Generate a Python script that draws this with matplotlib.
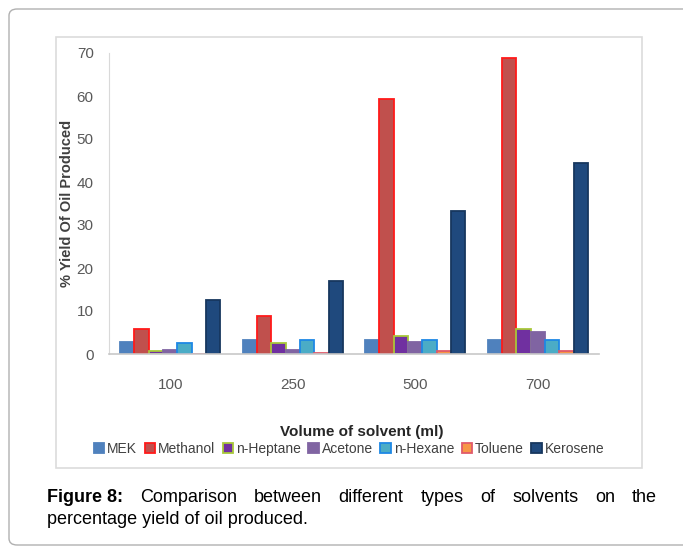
import numpy as np
import matplotlib
matplotlib.use("Agg")
import matplotlib.pyplot as plt
from matplotlib.patches import FancyBboxPatch, Rectangle

# data
volumes = ['100', '250', '500', '700']
solvents = ['MEK', 'Methanol', 'n-Heptane', 'Acetone', 'n-Hexane', 'Toluene', 'Kerosene']
mek = [2.7, 3.3, 3.3, 3.3]
methanol = [5.8, 8.9, 59.3, 68.8]
heptane = [0.6, 2.6, 4.3, 5.7]
acetone = [0.9, 1.0, 2.7, 5.2]
hexane = [2.6, 3.3, 3.3, 3.3]
toluene = [0.0, 0.3, 0.8, 0.8]
kerosene = [12.6, 16.9, 33.3, 44.5]

fills = ['#4F81BD', '#C0504D', '#7030A0', '#8064A2', '#4BACC6', '#F79646', '#1F497D']
edges = ['#4F81BD', '#FF1A1A', '#A8C83A', '#8064A2', '#1E88E5', '#E05A6A', '#17375E']

plt.rcParams['font.family'] = ['Liberation Sans', 'DejaVu Sans']

W, H = 683, 550
fig = plt.figure(figsize=(W / 100, H / 100), dpi=100)

def fx(px):
    return px / W

def fy(py):
    return 1 - py / H

# outer rounded box and inner chart frame
fig.patches.append(FancyBboxPatch((fx(9), fy(545)), fx(720) - fx(9), fy(9) - fy(545),
                                  boxstyle='round,pad=0,rounding_size=0.012',
                                  transform=fig.transFigure, fill=False,
                                  edgecolor='#b0b0b0', linewidth=1.0))
fig.patches.append(Rectangle((fx(56), fy(468)), fx(642) - fx(56), fy(37) - fy(468),
                             transform=fig.transFigure, fill=False,
                             edgecolor='#dcdcdc', linewidth=1.2))

ax = fig.add_axes([fx(109), fy(354), fx(599) - fx(109), fy(53) - fy(354)])
series = [mek, methanol, heptane, acetone, hexane, toluene, kerosene]
x = np.arange(len(volumes)) + 0.5
w = 0.117
for i, vals in enumerate(series):
    ax.bar(x + (i - 3) * w, vals, w, color=fills[i], edgecolor=edges[i],
           linewidth=1.3, label=solvents[i])

ax.set_xlim(0, 4)
ax.set_ylim(0, 70)
ax.set_yticks(range(0, 71, 10))
ax.set_xticks(x)
ax.set_xticklabels(volumes)
for sp in ['top', 'right']:
    ax.spines[sp].set_visible(False)
ax.spines['left'].set_color('#d9d9d9')
ax.spines['bottom'].set_color('#c8c8c8')
ax.spines['bottom'].set_linewidth(1.2)
ax.tick_params(length=0, labelsize=11, colors='#595959')
ax.tick_params(axis='x', pad=17)
ax.tick_params(axis='y', pad=11)

fig.text(fx(67), fy(203), '% Yield Of Oil Produced', rotation=90, ha='center',
         va='center', fontsize=10.5, fontweight='bold', color='#404040')
fig.text(fx(362), fy(432), 'Volume of solvent (ml)', ha='center', va='center',
         fontsize=11, fontweight='bold', color='#262626')

leg = fig.legend(loc='center', bbox_to_anchor=(fx(349), fy(449)), ncol=7, frameon=False,
                 handlelength=0.75, handleheight=0.75, handletextpad=0.2,
                 columnspacing=0.55, borderpad=0, fontsize=10)
for t in leg.get_texts():
    t.set_color('#404040')

# justified caption
line1 = ['Figure 8:', 'Comparison', 'between', 'different', 'types', 'of',
         'solvents', 'on', 'the']
x0, x1 = 47, 657
texts = []
for k, word in enumerate(line1):
    texts.append(fig.text(fx(x0), fy(497), word, ha='left', va='center',
                          fontsize=13, fontweight='bold' if k == 0 else 'normal'))
fig.canvas.draw()
r = fig.canvas.get_renderer()
widths = [t.get_window_extent(r).width for t in texts]
gap = (x1 - x0 - sum(widths)) / (len(texts) - 1)
pos = x0
for t, wd in zip(texts, widths):
    t.set_x(fx(pos))
    pos += wd + gap
fig.text(fx(x0), fy(519), 'percentage yield of oil produced.', ha='left', va='center',
         fontsize=13)

fig.savefig('out.png', dpi=100)
